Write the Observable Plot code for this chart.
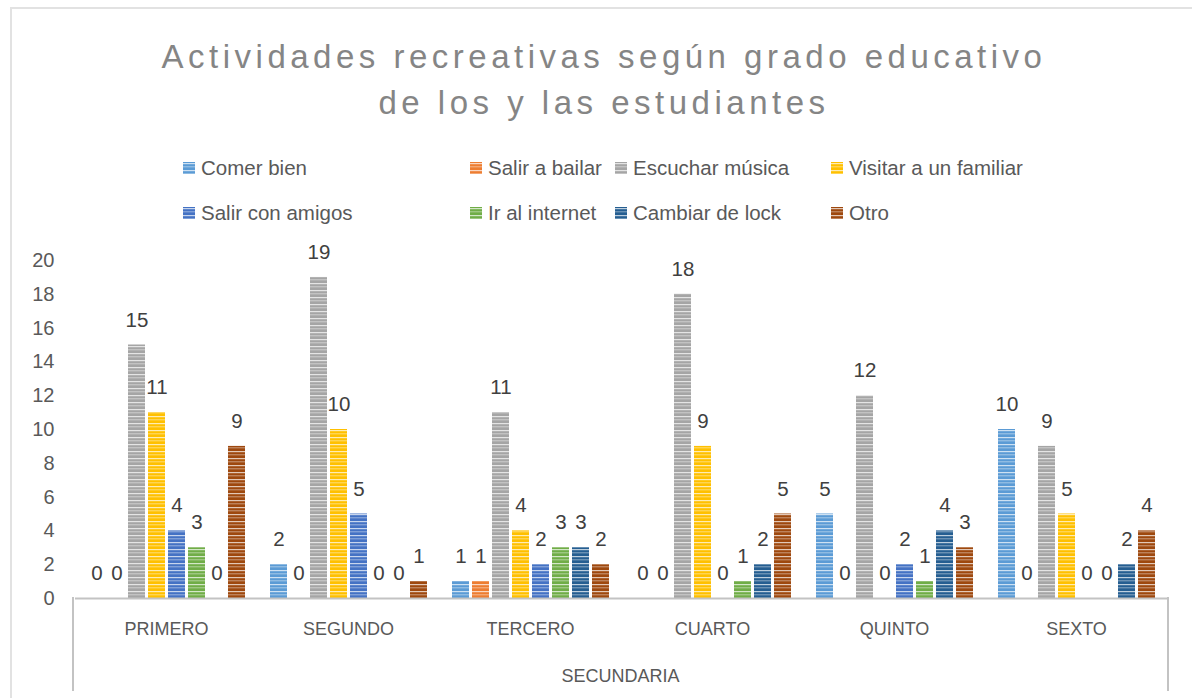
<!DOCTYPE html>
<html><head><meta charset="utf-8">
<script src="https://cdn.jsdelivr.net/npm/d3@7"></script>
<script src="https://cdn.jsdelivr.net/npm/@observablehq/plot@0.6"></script>
<style>
body{margin:0;background:#fff;font-family:"Liberation Sans",sans-serif;}
#root{position:relative;width:1192px;height:698px;overflow:hidden;background:#fff;}
#border{position:absolute;left:10px;top:7px;width:1300px;height:800px;border:2px solid #e2e2e2;box-sizing:border-box;}
#title{position:absolute;left:8px;width:1192px;top:34px;text-align:center;font-size:33px;letter-spacing:4.5px;color:#858585;line-height:46px;}
.leg{position:absolute;height:24px;font-size:20.5px;color:#595959;display:flex;align-items:center;white-space:nowrap;}
.leg svg{margin-right:6px;}
#chart{position:absolute;left:0;top:240px;}
#sec{position:absolute;left:73px;width:1095px;text-align:center;top:666px;font-size:18px;color:#595959;}
#defs{position:absolute;width:0;height:0;}
</style></head>
<body>
<div id="root">
  <svg id="defs"><defs id="patdefs"></defs></svg>
  <div id="border"></div>
  <div id="title">Actividades recreativas según grado educativo<br>de los y las estudiantes</div>
  <div id="legend"></div>
  <div id="chart"></div>
  <div id="sec">SECUNDARIA</div>
</div>
<script>
// ---- data ----
const grados = ["PRIMERO","SEGUNDO","TERCERO","CUARTO","QUINTO","SEXTO"];
const series = ["Comer bien","Salir a bailar","Escuchar música","Visitar a un familiar","Salir con amigos","Ir al internet","Cambiar de lock","Otro"];
const colores = ["#5B9BD5","#ED7D31","#A5A5A5","#FFC000","#4472C4","#70AD47","#255E91","#9E480E"];
const comerBien      = [0, 2, 1, 0, 5, 10];
const salirABailar   = [0, 0, 1, 0, 0, 0];
const escucharMusica = [15, 19, 11, 18, 12, 9];
const visitarFamiliar= [11, 10, 4, 9, 0, 5];
const salirConAmigos = [4, 5, 2, 0, 2, 0];
const irAlInternet   = [3, 0, 3, 1, 1, 0];
const cambiarDeLock  = [0, 0, 3, 2, 4, 2];
const otro           = [9, 1, 2, 5, 3, 4];
const yTicks = [0,2,4,6,8,10,12,14,16,18,20];
const valores = [comerBien, salirABailar, escucharMusica, visitarFamiliar, salirConAmigos, irAlInternet, cambiarDeLock, otro];

// ---- patterns ----
const ns = "http://www.w3.org/2000/svg";
const defs = document.getElementById("patdefs");
colores.forEach((c, i) => {
  const p = document.createElementNS(ns, "pattern");
  p.setAttribute("id", "pat" + i);
  p.setAttribute("width", 8); p.setAttribute("height", 7);
  p.setAttribute("patternUnits", "userSpaceOnUse");
  p.innerHTML = `<rect width="8" height="7" fill="${c}"/>
    <rect y="1" width="8" height="1.2" fill="#fff" opacity="0.7"/>
    <rect y="4.3" width="8" height="1" fill="#fff" opacity="0.45"/>`;
  defs.appendChild(p);
});

// ---- legend ----
const cols = [183, 470, 615, 831];
const rows = [168, 213];
const legend = document.getElementById("legend");
series.forEach((s, i) => {
  const d = document.createElement("div");
  d.className = "leg";
  d.style.left = cols[i % 4] + "px";
  d.style.top = (rows[Math.floor(i / 4)] - 12) + "px";
  d.innerHTML = `<svg width="12" height="12"><rect width="12" height="12" fill="url(#pat${i})"/></svg><span>${s}</span>`;
  legend.appendChild(d);
});

// ---- table ----
const data = [];
series.forEach((s, i) => grados.forEach((g, j) => data.push({grado: g, serie: s, idx: i, valor: valores[i][j]})));

const chart = Plot.plot({
  width: 1192, height: 458,
  marginLeft: 73, marginRight: 24, marginTop: 20, marginBottom: 100,
  style: {fontFamily: "Liberation Sans, sans-serif", color: "#595959", background: "transparent", overflow: "visible"},
  fx: {domain: grados, padding: 0, label: null},
  x: {domain: series, paddingInner: 0.15, paddingOuter: 0.625, axis: null},
  y: {domain: [0, 20], axis: null},
  color: {type: "identity"},
  marks: [
    Plot.axisY({ticks: yTicks, tickSize: 0, tickPadding: 21, fontSize: 20, label: null}),
    Plot.axisFx({anchor: "bottom", tickSize: 0, tickPadding: 24, fontSize: 18, label: null}),
    Plot.barY(data, {fx: "grado", x: "serie", y: "valor", fill: d => `url(#pat${d.idx})`}),
    Plot.ruleY([0], {stroke: "#c3c3c3", strokeWidth: 2}),
    Plot.text(data, {fx: "grado", x: "serie", y: "valor", text: d => String(d.valor), dy: -25, fontSize: 20.5, fill: "#404040"})
  ]
});
document.getElementById("chart").appendChild(chart);

// outer category-axis lines from the scales
const yS = chart.scale("y"), fxS = chart.scale("fx");
const y0 = yS.apply(0);
const [xl, xr] = [fxS.range[0], fxS.range[1]];
[xl, xr].forEach(x => {
  const l = document.createElementNS(ns, "line");
  l.setAttribute("x1", x); l.setAttribute("x2", x);
  l.setAttribute("y1", y0 - 1); l.setAttribute("y2", y0 + 93);
  l.setAttribute("stroke", "#c3c3c3"); l.setAttribute("stroke-width", 2);
  chart.appendChild(l);
});
</script>
</body></html>
